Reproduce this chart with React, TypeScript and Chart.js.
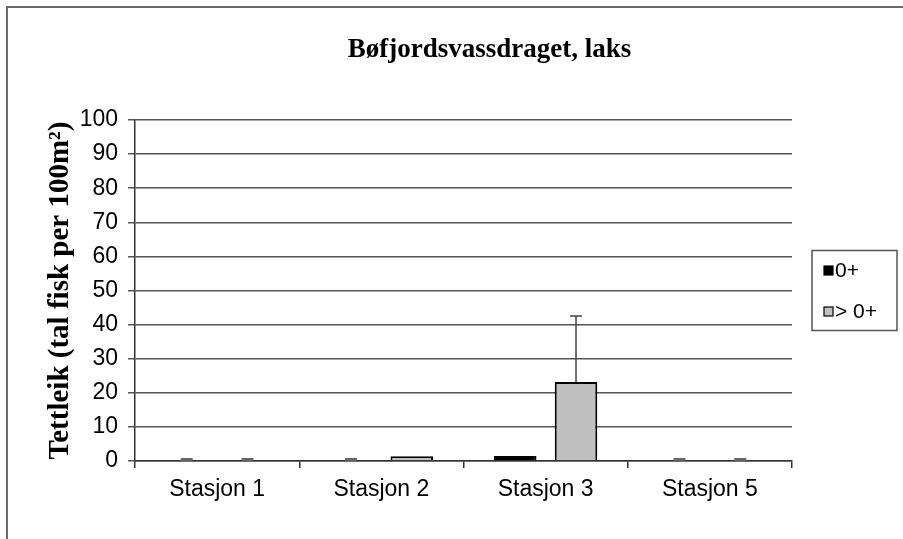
import React, { useEffect, useRef } from "react";
import { Chart, registerables } from "chart.js";

Chart.register(...registerables);

const categories = ["Stasjon 1", "Stasjon 2", "Stasjon 3", "Stasjon 5"];
const seriesNames = ["0+", "> 0+"];
const values0 = [0, 0, 1.5, 0];
const valuesGt = [0, 1.4, 23.2, 0];
const errors0 = [0, 0, 0, 0];
const errorsGt = [0, 0, 19.3, 0];
const colors = ["#000000", "#c0c0c0"];
const chartTitle = "Bøfjordsvassdraget, laks";
const yTitle = "Tettleik (tal fisk per 100m²)";

const framePlugin = {
  id: "frame",
  beforeDraw(chart: any) {
    const ctx = chart.ctx;
    ctx.save();
    ctx.strokeStyle = "#6a6a6a";
    ctx.lineWidth = 2;
    ctx.beginPath();
    ctx.moveTo(7, chart.height);
    ctx.lineTo(7, 7);
    ctx.lineTo(chart.width, 7);
    ctx.stroke();
    ctx.restore();
  },
};

const titlePlugin = {
  id: "customTitle",
  afterDraw(chart: any) {
    const ctx = chart.ctx;
    const a = chart.chartArea;
    ctx.save();
    ctx.font = "bold 27px 'Liberation Serif', 'Times New Roman', serif";
    ctx.fillStyle = "#000";
    ctx.textAlign = "center";
    ctx.textBaseline = "alphabetic";
    ctx.fillText(chartTitle, (a.left + a.right) / 2 + 26, 57);
    ctx.restore();
  },
};

const errorBarPlugin = {
  id: "errorBars",
  afterDatasetsDraw(chart: any) {
    const ctx = chart.ctx;
    const yScale = chart.scales.y;
    chart.data.datasets.forEach((ds: any, i: number) => {
      const meta = chart.getDatasetMeta(i);
      meta.data.forEach((el: any, j: number) => {
        const v = ds.data[j];
        const e = ds.errors[j];
        const y0 = yScale.getPixelForValue(v);
        const y1 = yScale.getPixelForValue(v + e);
        ctx.save();
        ctx.beginPath();
        if (e > 0) {
          ctx.strokeStyle = "#444";
          ctx.lineWidth = 1.5;
          ctx.moveTo(el.x, y0);
          ctx.lineTo(el.x, y1);
          ctx.moveTo(el.x - 6, y1);
          ctx.lineTo(el.x + 6, y1);
          ctx.stroke();
        } else if (v === 0) {
          ctx.lineWidth = 3;
          ctx.strokeStyle = "#666";
          ctx.moveTo(el.x - 6, y1 - 1.5);
          ctx.lineTo(el.x + 6, y1 - 1.5);
          ctx.stroke();
        }
        ctx.restore();
      });
    });
  },
};

const legendPlugin = {
  id: "customLegend",
  afterDraw(chart: any) {
    const ctx = chart.ctx;
    const a = chart.chartArea;
    const left = a.right + 20;
    const right = chart.width - 6;
    const cy = (a.top + a.bottom) / 2;
    const top = cy - 40;
    const bottom = cy + 40;
    ctx.save();
    ctx.strokeStyle = "#555";
    ctx.lineWidth = 1.5;
    ctx.strokeRect(left, top, right - left, bottom - top);
    ctx.font = "21px 'Liberation Sans', Arial, sans-serif";
    ctx.textBaseline = "middle";
    ctx.textAlign = "left";
    chart.data.datasets.forEach((ds: any, i: number) => {
      const y = top + 20 + i * 41;
      ctx.fillStyle = ds.backgroundColor;
      ctx.fillRect(left + 12, y - 4.5, 9, 9);
      ctx.strokeStyle = "#000";
      ctx.lineWidth = 1.2;
      ctx.strokeRect(left + 12, y - 4.5, 9, 9);
      ctx.fillStyle = "#000";
      ctx.fillText(ds.label, left + 23, y + 1);
    });
    ctx.restore();
  },
};

export default function App() {
  const ref = useRef<HTMLCanvasElement | null>(null);
  useEffect(() => {
    if (!ref.current) return;
    const chart = new Chart(ref.current, {
      type: "bar",
      data: {
        labels: categories,
        datasets: [
          {
            label: seriesNames[0],
            data: values0,
            errors: errors0,
            backgroundColor: colors[0],
            borderColor: "#000",
            borderWidth: 2,
          } as any,
          {
            label: seriesNames[1],
            data: valuesGt,
            errors: errorsGt,
            backgroundColor: colors[1],
            borderColor: "#000",
            borderWidth: 2,
          } as any,
        ],
      },
      options: {
        animation: false,
        responsive: false,
        maintainAspectRatio: false,
        layout: { padding: { top: 120, right: 111, left: 0, bottom: 0 } },
        datasets: { bar: { categoryPercentage: 0.74, barPercentage: 0.7 } },
        plugins: {
          legend: { display: false },
          title: { display: false },
          tooltip: { enabled: false },
        },
        scales: {
          x: {
            grid: {
              drawOnChartArea: false,
              drawTicks: true,
              tickLength: 7,
              color: "#333",
              lineWidth: 1.5,
            },
            border: { color: "#333", width: 1.5 },
            ticks: {
              padding: 8,
              color: "#000",
              font: { family: "'Liberation Sans', Arial, sans-serif", size: 23 },
            },
            afterFit(scale: any) {
              scale.height = 78;
            },
          },
          y: {
            min: 0,
            max: 100,
            ticks: {
              stepSize: 10,
              padding: 10,
              color: "#000",
              font: { family: "'Liberation Sans', Arial, sans-serif", size: 23 },
            },
            grid: { color: "#555", lineWidth: 1.5, tickLength: 7 },
            border: { color: "#333", width: 1.5 },
            title: {
              display: true,
              text: yTitle,
              color: "#000",
              padding: { top: 43, bottom: 0 },
              font: { family: "'Liberation Serif', 'Times New Roman', serif", size: 29, weight: "bold" },
            },
            afterFit(scale: any) {
              scale.width = 135;
            },
          },
        },
      },
      plugins: [framePlugin, errorBarPlugin, titlePlugin, legendPlugin],
    });
    return () => chart.destroy();
  }, []);
  return (
    <div style={{ position: "absolute", left: 0, top: 0, width: 903, height: 539, background: "#fff" }}>
      <canvas ref={ref} width={903} height={539} style={{ width: 903, height: 539, display: "block" }} />
    </div>
  );
}
